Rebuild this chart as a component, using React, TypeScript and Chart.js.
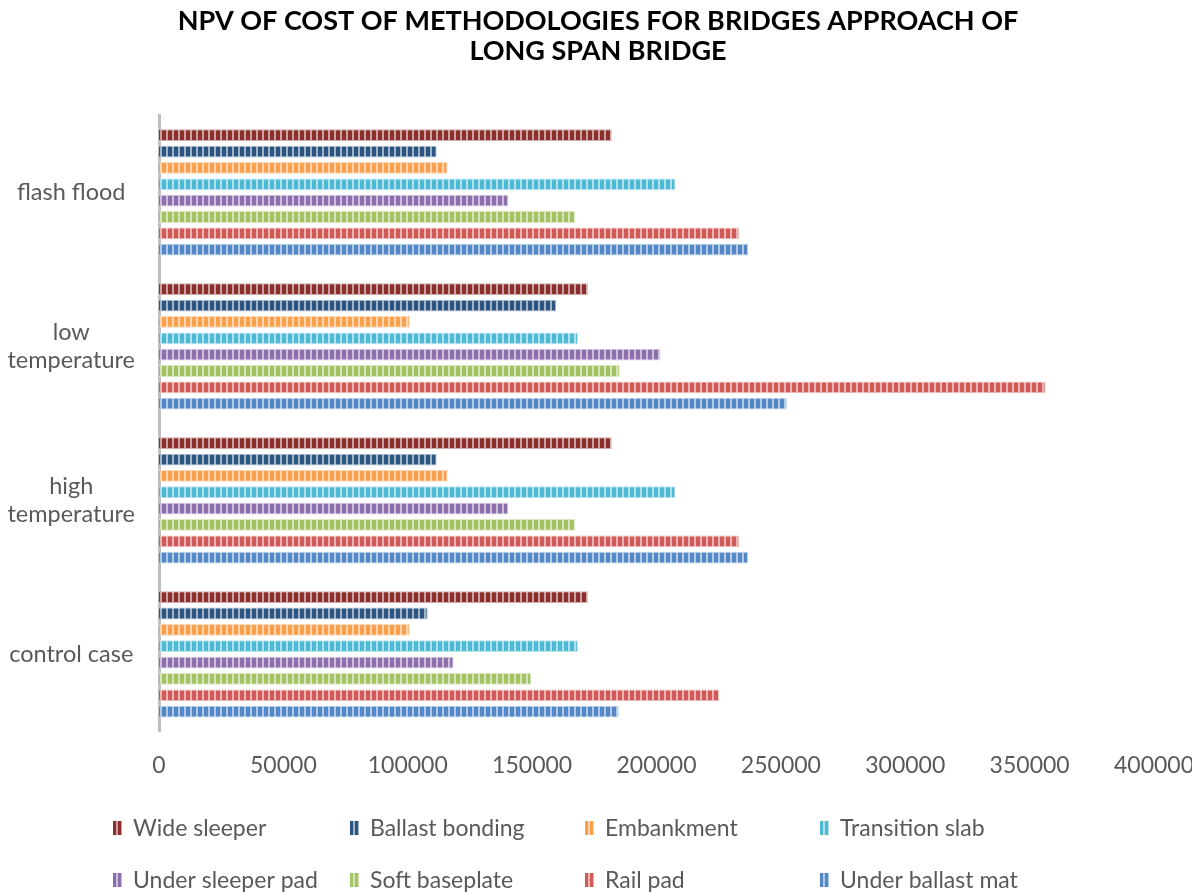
import React, { useEffect, useRef } from "react";
import { Chart, ChartOptions, Plugin } from "chart.js/auto";

// categories top -> bottom
const categories = [
  "flash flood",
  ["low", "temperature"],
  ["high", "temperature"],
  "control case",
];

const seriesNames = [
  "Wide sleeper",
  "Ballast bonding",
  "Embankment",
  "Transition slab",
  "Under sleeper pad",
  "Soft baseplate",
  "Rail pad",
  "Under ballast mat",
];

const seriesColors = [
  "#8a2f2c",
  "#2c5582",
  "#f9a04e",
  "#4db9d2",
  "#8e6fae",
  "#a3c263",
  "#cf5a57",
  "#5387c6",
];

const wideSleeper = [182000, 172400, 182000, 172400];
const ballastBonding = [111600, 159600, 111600, 108000];
const embankment = [116000, 100800, 116000, 100800];
const transitionSlab = [207600, 168400, 207600, 168400];
const underSleeperPad = [140400, 201600, 140400, 118400];
const softBaseplate = [167200, 185200, 167200, 149600];
const railPad = [233200, 356400, 233200, 225200];
const underBallastMat = [236800, 252400, 236800, 184800];

const seriesValues = [
  wideSleeper,
  ballastBonding,
  embankment,
  transitionSlab,
  underSleeperPad,
  softBaseplate,
  railPad,
  underBallastMat,
];

const xTicks = [0, 50000, 100000, 150000, 200000, 250000, 300000, 350000, 400000];

const FONT = "Lato, 'Open Sans', sans-serif";
const TEXT = "#595959";

function tint(hex: string, amt: number) {
  const n = parseInt(hex.slice(1), 16);
  const r = (n >> 16) & 255, g = (n >> 8) & 255, b = n & 255;
  const m = (c: number) => Math.round(c + (255 - c) * amt);
  return `rgb(${m(r)},${m(g)},${m(b)})`;
}

function stripes(color: string) {
  const c = document.createElement("canvas");
  c.width = 6;
  c.height = 4;
  const ctx = c.getContext("2d")!;
  ctx.fillStyle = tint(color, 0.55);
  ctx.fillRect(0, 0, 6, 4);
  ctx.fillStyle = color;
  ctx.fillRect(0, 0, 4, 4);
  return ctx.createPattern(c, "repeat")!;
}

const gridLegend: Plugin<"bar"> = {
  id: "gridLegend",
  afterDraw(chart) {
    const { ctx } = chart;
    const cols = [113, 350, 585, 820];
    const rows = [828, 880];
    ctx.save();
    ctx.font = `23px ${FONT}`;
    ctx.textBaseline = "middle";
    ctx.textAlign = "left";
    seriesNames.forEach((name, i) => {
      const x = cols[i % 4];
      const y = rows[Math.floor(i / 4)];
      const col = seriesColors[i];
      ctx.fillStyle = tint(col, 0.55);
      ctx.fillRect(x, y - 7, 9, 14);
      ctx.fillStyle = col;
      ctx.fillRect(x, y - 7, 3, 14);
      ctx.fillRect(x + 5, y - 7, 3, 14);
      ctx.fillStyle = TEXT;
      ctx.fillText(name, x + 20, y + 1);
    });
    ctx.restore();
  },
};

export default function App() {
  const canvasRef = useRef<HTMLCanvasElement | null>(null);

  useEffect(() => {
    document.body.style.margin = "0";
    const ctx = canvasRef.current?.getContext("2d");
    if (!ctx) return;

    const options: ChartOptions<"bar"> = {
      indexAxis: "y",
      responsive: true,
      maintainAspectRatio: false,
      animation: false,
      layout: { padding: { left: 4, right: 0, top: 0, bottom: 101 } },
      scales: {
        x: {
          min: 0,
          max: 400000,
          afterBuildTicks: (scale) => {
            scale.ticks = xTicks.map((v) => ({ value: v }));
          },
          afterFit: (scale) => {
            scale.paddingRight = 38;
          },
          ticks: {
            color: TEXT,
            font: { family: FONT, size: 23 },
            padding: 12,
            maxRotation: 0,
            callback: (v) => String(v),
          },
          grid: { display: false },
          border: { display: false },
        },
        y: {
          afterFit: (scale) => {
            scale.width = 155;
          },
          ticks: {
            color: TEXT,
            font: { family: FONT, size: 23.5, lineHeight: 1.2 },
            padding: 24,
            crossAlign: "center",
          },
          grid: { display: false, drawTicks: false },
          border: { display: true, color: "#bfbfbf", width: 3 },
        },
      },
      plugins: {
        legend: { display: false },
        tooltip: { enabled: false },
        title: {
          display: true,
          text: [
            "NPV OF COST OF METHODOLOGIES FOR BRIDGES APPROACH OF",
            "LONG SPAN BRIDGE",
          ],
          color: "#000",
          font: { family: FONT, size: 27, weight: "bold", lineHeight: 1.12 },
          padding: { top: 6, bottom: 49 },
        },
      },
    };

    const chart = new Chart(ctx, {
      type: "bar",
      data: {
        labels: categories,
        datasets: seriesNames.map((name, i) => ({
          label: name,
          data: seriesValues[i],
          backgroundColor: stripes(seriesColors[i]),
          borderColor: tint(seriesColors[i], 0.6),
          borderWidth: 1,
          barPercentage: 0.72,
          categoryPercentage: 0.85,
        })),
      },
      options,
      plugins: [gridLegend],
    });

    return () => { chart.destroy(); };
  }, []);

  return (
    <div style={{ width: 1192, height: 892, position: "relative" }}>
      <canvas ref={canvasRef} />
    </div>
  );
}
